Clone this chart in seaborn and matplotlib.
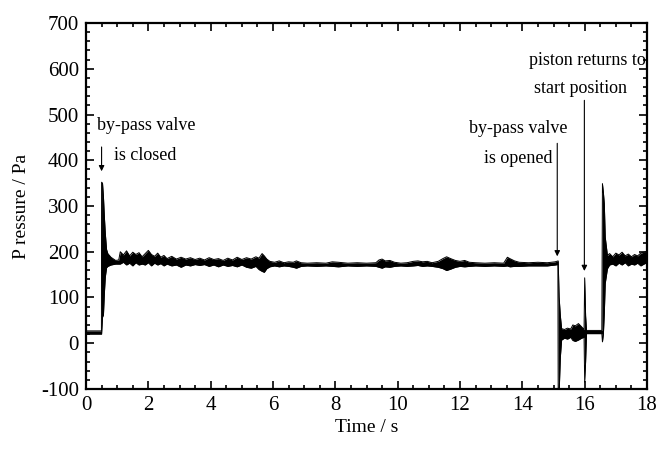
import matplotlib
matplotlib.use("Agg")
import matplotlib.pyplot as plt
from matplotlib.ticker import MultipleLocator
import seaborn as sns
import pandas as pd

# Pressure trace: time (s) with the upper and lower edge of the recorded signal band (Pa)
time_s = [
    0.00, 0.495, 0.50, 0.53, 0.56, 0.59, 0.62, 0.66, 0.70, 0.80, 0.95,
    1.05, 1.10, 1.20, 1.30, 1.40, 1.50, 1.60, 1.70, 1.80, 1.90,
    2.00, 2.10, 2.20, 2.30, 2.40, 2.50, 2.60, 2.75, 2.90, 3.05,
    3.20, 3.35, 3.50, 3.65, 3.80, 3.95, 4.10, 4.25, 4.40, 4.55,
    4.70, 4.85, 5.00, 5.15, 5.30, 5.45, 5.55, 5.65, 5.72, 5.80,
    5.90, 6.05, 6.20, 6.35, 6.50, 6.65, 6.75, 6.90, 7.10, 7.40,
    7.70, 7.90, 8.10, 8.40, 8.70, 9.00, 9.30, 9.40, 9.50, 9.60,
    9.75, 9.90, 10.10, 10.30, 10.50, 10.65, 10.80, 10.95, 11.10, 11.30,
    11.45, 11.57, 11.70, 11.85, 12.00, 12.15, 12.30, 12.50, 12.80, 13.10,
    13.40, 13.52, 13.60, 13.75, 13.90, 14.20, 14.50, 14.80, 15.05, 15.14,
    15.15, 15.18, 15.22, 15.26, 15.35, 15.45, 15.55, 15.62, 15.70, 15.80,
    15.90, 15.98, 16.00, 16.03, 16.06, 16.30, 16.55, 16.57, 16.60, 16.63,
    16.66, 16.73, 16.80, 16.90, 17.00, 17.10, 17.20, 17.30, 17.40, 17.50,
    17.60, 17.70, 17.80, 17.90, 18.00,
]
p_upper = [
    27, 27, 352, 350, 320, 276, 240, 205, 196, 188, 181,
    182, 200, 193, 202, 191, 199, 194, 198, 189, 196,
    203, 194, 190, 197, 188, 192, 185, 190, 184, 188,
    184, 187, 183, 186, 182, 187, 183, 185, 181, 186,
    182, 188, 183, 187, 184, 189, 186, 196, 191, 184,
    179, 177, 180, 176, 178, 177, 180, 176, 175, 176,
    175, 178, 177, 175, 176, 175, 176, 182, 184, 180,
    181, 177, 175, 176, 179, 180, 178, 179, 176, 179,
    185, 189, 185, 181, 179, 181, 177, 176, 175, 176,
    175, 188, 185, 180, 177, 176, 177, 176, 178, 180,
    180, 101, 60, 32, 30, 33, 31, 40, 38, 43,
    36, 30, 143, 60, 28, 28, 28, 349, 330, 305,
    232, 192, 196, 189, 197, 193, 199, 191, 195, 189,
    194, 191, 197, 199, 201,
]
p_lower = [
    20, 20, 20, 57, 62, 110, 145, 165, 168, 171, 173,
    173, 173, 177, 171, 175, 169, 176, 171, 173, 171,
    176, 169, 175, 171, 174, 169, 173, 169, 171, 166,
    171, 169, 172, 170, 172, 168, 171, 167, 171, 168,
    170, 167, 171, 166, 164, 168, 161, 157, 155, 163,
    167, 169, 167, 169, 168, 166, 164, 168, 169, 168,
    169, 168, 167, 169, 168, 169, 168, 166, 164, 167,
    166, 168, 169, 168, 169, 170, 168, 169, 168, 166,
    163, 159, 162, 166, 168, 167, 168, 169, 168, 169,
    168, 169, 167, 168, 168, 169, 169, 169, 171, 172,
    -110, -110, -30, 7, 11, 9, 13, 6, 4, 7,
    11, 13, -85, -40, 21, 21, 21, 3, 20, 65,
    131, 163, 171, 173, 169, 175, 171, 176, 169, 173,
    171, 175, 169, 173, 176,
]

# Event annotations
event_line1 = ["by-pass valve", "by-pass valve", "piston returns to"]
event_line2 = ["is closed", "is opened", "start position"]
line1_x = [0.34, 15.46, 17.97]
line1_y = [476, 469, 619]
line1_ha = ["left", "right", "right"]
line2_x = [0.90, 14.98, 17.36]
line2_y = [411, 404, 557]
line2_ha = ["left", "right", "right"]
arrow_x = [0.50, 15.12, 15.99]
arrow_from = [429, 437, 531]
arrow_to = [376, 190, 158]

x_ticks = [0, 2, 4, 6, 8, 10, 12, 14, 16, 18]
y_ticks = [-100, 0, 100, 200, 300, 400, 500, 600, 700]

sns.set_style("ticks")
plt.rcParams["font.family"] = ["Liberation Serif", "DejaVu Serif"]
plt.rcParams["text.color"] = "black"
plt.rcParams["axes.labelcolor"] = "black"
plt.rcParams["xtick.color"] = "black"
plt.rcParams["ytick.color"] = "black"
plt.rcParams["axes.edgecolor"] = "black"

fig = plt.figure(figsize=(6.58, 4.54), dpi=100)
ax = fig.add_axes([0.1307, 0.1432, 0.8526, 0.8061])

trace = pd.DataFrame({"t": time_s, "hi": p_upper, "lo": p_lower})
ax.fill_between(trace["t"], trace["lo"], trace["hi"], color="black", linewidth=0)
sns.lineplot(data=trace, x="t", y="hi", ax=ax, color="black", linewidth=0.7, estimator=None, sort=False)
sns.lineplot(data=trace, x="t", y="lo", ax=ax, color="black", linewidth=0.7, estimator=None, sort=False)

for i in range(len(event_line1)):
    ax.text(line1_x[i], line1_y[i], event_line1[i], fontsize=13, ha=line1_ha[i], va="center", color="black")
    ax.text(line2_x[i], line2_y[i], event_line2[i], fontsize=13, ha=line2_ha[i], va="center", color="black")
    ax.annotate("", xy=(arrow_x[i], arrow_to[i]), xytext=(arrow_x[i], arrow_from[i]),
                arrowprops=dict(arrowstyle="-|>", color="black", lw=0.8,
                                mutation_scale=8, shrinkA=0, shrinkB=0))

ax.set_xlim(0, 18)
ax.set_ylim(-100, 700)
ax.set_xticks(x_ticks)
ax.set_yticks(y_ticks)
ax.set_xticklabels([str(v) for v in x_ticks])
ax.set_yticklabels([str(v) for v in y_ticks])
ax.xaxis.set_minor_locator(MultipleLocator(0.5))
ax.yaxis.set_minor_locator(MultipleLocator(20))
ax.tick_params(which="both", direction="in", top=True, right=True, width=1.2, colors="black")
ax.tick_params(which="major", length=5.5, labelsize=15, pad=5)
ax.tick_params(which="minor", length=3)
for side in ["left", "right", "top", "bottom"]:
    ax.spines[side].set_visible(True)
    ax.spines[side].set_linewidth(1.6)
    ax.spines[side].set_color("black")

ax.set_xlabel("Time / s", fontsize=14, labelpad=3, color="black")
ax.set_ylabel("P ressure / Pa", fontsize=14, labelpad=8, color="black")

fig.savefig("out.png", dpi=100)
